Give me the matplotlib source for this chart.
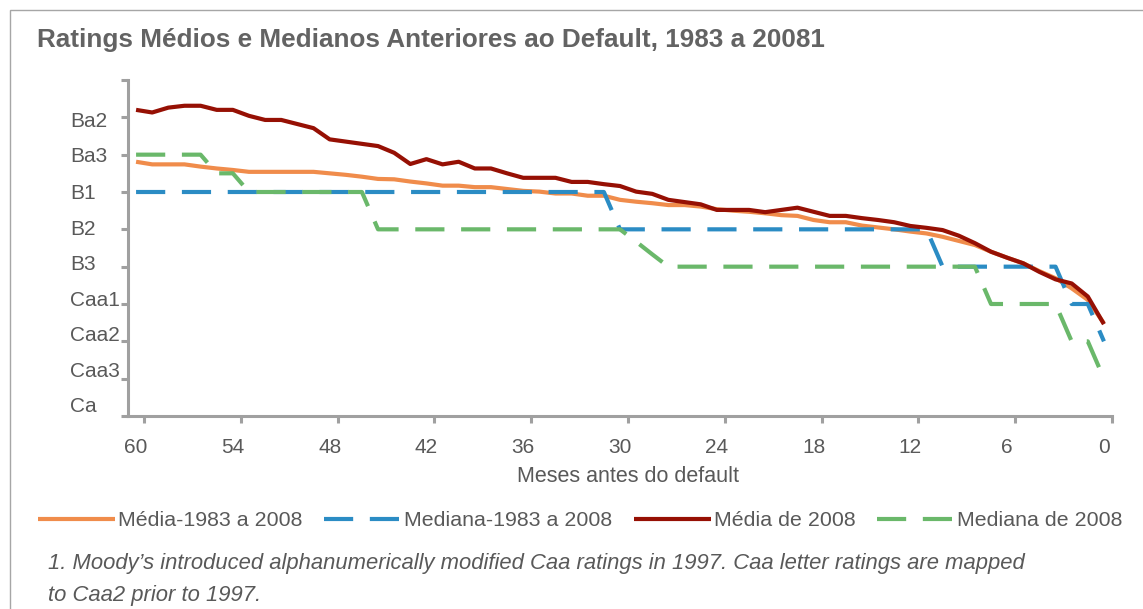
"""Ratings médios e medianos anteriores ao default, 1983 a 2008."""

import matplotlib

matplotlib.use("Agg")
import matplotlib.pyplot as plt
from matplotlib.patches import Rectangle
import numpy as np

plt.rcParams["font.family"] = ["Liberation Sans", "DejaVu Sans"]

TEXT_GRAY = "#595959"
AXIS_GRAY = "#A0A0A0"

# Meses antes do default: 60 ... 0
months = np.arange(60, -1, -1)

# escala numérica: Ba1=11, Ba2=12, ..., Ca=20
rating_labels = ["Ba2", "Ba3", "B1", "B2", "B3", "Caa1", "Caa2", "Caa3", "Ca"]
rating_values = [12, 13, 14, 15, 16, 17, 18, 19, 20]

media_1983_2008 = [
    13.19, 13.26, 13.26, 13.26, 13.32, 13.37, 13.41, 13.46, 13.46, 13.46,
    13.46, 13.46, 13.50, 13.54, 13.59, 13.65, 13.66, 13.72, 13.77, 13.83,
    13.83, 13.87, 13.87, 13.92, 13.97, 13.99, 14.04, 14.04, 14.10, 14.10,
    14.21, 14.26, 14.30, 14.35, 14.35, 14.39, 14.46, 14.50, 14.53, 14.57,
    14.62, 14.64, 14.75, 14.81, 14.81, 14.90, 14.95, 15.00, 15.06, 15.11,
    15.20, 15.31, 15.42, 15.60, 15.76, 15.91, 16.12, 16.31, 16.58, 16.89,
    17.52,
]
mediana_1983_2008 = [
    14, 14, 14, 14, 14, 14, 14, 14, 14, 14,
    14, 14, 14, 14, 14, 14, 14, 14, 14, 14,
    14, 14, 14, 14, 14, 14, 14, 14, 14, 14,
    15, 15, 15, 15, 15, 15, 15, 15, 15, 15,
    15, 15, 15, 15, 15, 15, 15, 15, 15, 15,
    16, 16, 16, 16, 16, 16, 16, 16, 17, 17,
    18,
]
media_2008 = [
    11.80, 11.87, 11.74, 11.69, 11.69, 11.80, 11.80, 11.96, 12.07, 12.07,
    12.18, 12.29, 12.59, 12.65, 12.71, 12.77, 12.95, 13.25, 13.12, 13.26,
    13.19, 13.37, 13.37, 13.50, 13.62, 13.62, 13.62, 13.73, 13.73, 13.79,
    13.84, 13.99, 14.05, 14.21, 14.27, 14.33, 14.48, 14.48, 14.48, 14.54,
    14.48, 14.42, 14.53, 14.64, 14.64, 14.70, 14.75, 14.81, 14.91, 14.96,
    15.02, 15.17, 15.37, 15.60, 15.76, 15.91, 16.14, 16.34, 16.45, 16.80,
    17.54,
]
mediana_2008 = [
    13, 13, 13, 13, 13, 13.5, 13.5, 14, 14, 14,
    14, 14, 14, 14, 14, 15, 15, 15, 15, 15,
    15, 15, 15, 15, 15, 15, 15, 15, 15, 15,
    15, 15.33, 15.67, 16, 16, 16, 16, 16, 16, 16,
    16, 16, 16, 16, 16, 16, 16, 16, 16, 16,
    16, 16, 16, 17, 17, 17, 17, 17, 18, 18,
    19,
]

x_tick_labels = ["60", "54", "48", "42", "36", "30", "24", "18", "12", "6", "0"]
x_label_positions = [60, 54, 48, 42, 36, 30, 24, 18, 12, 6, 0]
# posição das etiquetas do eixo y (como no original, um pouco deslocadas)
y_label_positions = [12.07, 13.0, 14.0, 14.95, 15.9, 16.85, 17.8, 18.75, 19.7]

series = [
    ("Média-1983 a 2008", media_1983_2008, "#F08C4B", "-"),
    ("Mediana-1983 a 2008", mediana_1983_2008, "#2B8CC4", "--"),
    ("Média de 2008", media_2008, "#961004", "-"),
    ("Mediana de 2008", mediana_2008, "#6AB86A", "--"),
]

W, H = 1143, 609
fig = plt.figure(figsize=(W / 100, H / 100), dpi=100)
ax = fig.add_axes([128 / W, 1 - 416 / H, (1112 - 128) / W, (416 - 80) / H])

for label, values, color, style in series:
    line, = ax.plot(months, values, color=color, linewidth=3.0, linestyle=style, label=label,
                    solid_capstyle="butt", dash_capstyle="butt")
    if style == "--":
        line.set_dashes((7, 4))

ax.set_xlim(60.5, -0.5)
ax.set_ylim(20, 11)

ax.xaxis.remove_overlapping_locs = False
ax.yaxis.remove_overlapping_locs = False

# marcas do eixo x entre categorias, etiquetas nos meses
ax.set_xticks([p - 0.5 for p in x_label_positions])
ax.set_xticklabels([])
ax.set_xticks(x_label_positions, minor=True)
ax.set_xticklabels(x_tick_labels, minor=True)
ax.tick_params(axis="x", which="major", direction="out", length=5, width=2.2, color=AXIS_GRAY)
ax.tick_params(axis="x", which="minor", length=0, pad=16, labelsize=15, labelcolor=TEXT_GRAY)

ax.set_yticks(range(11, 21))
ax.set_yticklabels([])
ax.set_yticks(y_label_positions, minor=True)
ax.set_yticklabels(rating_labels, minor=True)
ax.tick_params(axis="y", which="major", direction="out", length=5, width=2.2, color=AXIS_GRAY)
ax.tick_params(axis="y", which="minor", length=0, pad=41.5, labelsize=15, labelcolor=TEXT_GRAY)
for lbl in ax.get_yticklabels(minor=True):
    lbl.set_horizontalalignment("left")

for side in ("top", "right"):
    ax.spines[side].set_visible(False)
for side in ("left", "bottom"):
    ax.spines[side].set_color(AXIS_GRAY)
    ax.spines[side].set_linewidth(2.2)

ax.set_xlabel("Meses antes do default", fontsize=15.5, color=TEXT_GRAY, labelpad=5)
ax.xaxis.set_label_coords((628 - 128) / (1112 - 128), -(477 - 416) / (416 - 80))
ax.xaxis.label.set_verticalalignment("center")

fig.text(37 / W, 1 - 40 / H, "Ratings Médios e Medianos Anteriores ao Default, 1983 a 20081",
         fontsize=18.8, fontweight="bold", color="#636363", va="center", ha="left")

fig.legend(loc="center left", bbox_to_anchor=(38 / W, 1 - 521 / H), ncol=4, frameon=False,
           fontsize=15.4, handlelength=3.6, handletextpad=0.15, columnspacing=1.0,
           borderpad=0, borderaxespad=0, labelcolor=TEXT_GRAY)

fig.text(48 / W, 1 - 563 / H,
         "1. Moody’s introduced alphanumerically modified Caa ratings in 1997. "
         "Caa letter ratings are mapped",
         fontsize=15.8, style="italic", color=TEXT_GRAY, va="center", ha="left")
fig.text(48 / W, 1 - 595 / H, "to Caa2 prior to 1997.",
         fontsize=15.8, style="italic", color=TEXT_GRAY, va="center", ha="left")

fig.add_artist(Rectangle((10 / W, -0.1), 1.2, 1.1 - 10 / H, transform=fig.transFigure,
                         fill=False, edgecolor="#A6A6A6", linewidth=1.0))

fig.savefig("out.png", dpi=100)
